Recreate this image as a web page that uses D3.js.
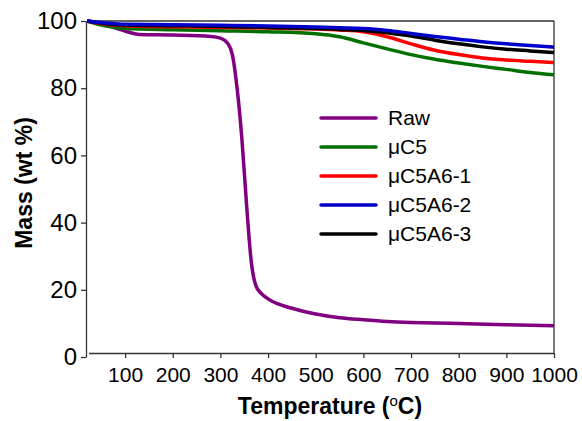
<!DOCTYPE html>
<html>
<head>
<meta charset="utf-8">
<script src="https://cdn.jsdelivr.net/npm/d3@7"></script>
<style>
  body { margin: 0; background: #fff; }
  text { font-family: Arial, "Liberation Sans", sans-serif; fill: #000; }
</style>
</head>
<body>
<div id="chart"></div>
<script>
// TGA curves
var tempRaw = [20, 50, 80, 100, 130, 200, 280, 300, 315, 325, 335, 345, 355, 365, 375, 385, 400, 450, 500, 550, 600, 650, 700, 750, 800, 900, 1000];
var massRaw = [100, 99.3, 97.9, 97.0, 96.0, 95.8, 95.4, 94.9, 93.4, 90, 80, 65, 45, 28, 21, 19, 17.3, 14.5, 12.8, 11.7, 11.1, 10.6, 10.3, 10.1, 10.0, 9.6, 9.3];

var temp = [20, 60, 100, 200, 300, 400, 500, 550, 600, 650, 700, 750, 800, 850, 900, 950, 1000];
var massC5   = [100, 98.5, 97.8, 97.4, 97.1, 96.8, 96.2, 95.3, 93.5, 91.7, 90.0, 88.6, 87.5, 86.5, 85.6, 84.7, 84.0];
var massC5A61 = [100, 99.0, 98.6, 98.3, 98.1, 97.9, 97.6, 97.3, 96.8, 95.3, 93.2, 91.3, 90.0, 89.0, 88.4, 88.0, 87.6];
var massC5A62 = [100, 99.4, 99.0, 98.9, 98.7, 98.5, 98.2, 98.0, 97.8, 97.2, 96.3, 95.4, 94.6, 93.8, 93.2, 92.7, 92.2];
var massC5A63 = [100, 99.2, 98.8, 98.6, 98.4, 98.1, 97.8, 97.5, 97.2, 96.5, 95.5, 94.3, 93.2, 92.3, 91.6, 91.1, 90.6];

var seriesNames = ["Raw", "\u03bcC5", "\u03bcC5A6-1", "\u03bcC5A6-2", "\u03bcC5A6-3"];
var seriesColors = ["#800080", "#007000", "#ff0000", "#0000cc", "#000000"];
var xTicks = [100, 200, 300, 400, 500, 600, 700, 800, 900, 1000];
var yTicks = [0, 20, 40, 60, 80, 100];

var width = 582, height = 421;

var svg = d3.select("#chart")
    .append("svg")
    .attr("width", width)
    .attr("height", height);

var x = d3.scaleLinear().domain([20, 1000]).range([87, 554]);
var y = d3.scaleLinear().domain([0, 100]).range([357, 21]);
var axisY = 353;

// frame (top and right)
svg.append("line")
    .attr("x1", x(20)).attr("x2", x(1000)).attr("y1", y(100)).attr("y2", y(100))
    .style("stroke", "#333").style("stroke-width", 1.3);
svg.append("line")
    .attr("x1", x(1000)).attr("x2", x(1000)).attr("y1", y(100)).attr("y2", axisY)
    .style("stroke", "#333").style("stroke-width", 1.3);

// y axis
var yAxis = d3.axisLeft(y).tickValues(yTicks).tickSize(5).tickSizeOuter(0).tickPadding(4);
var gy = svg.append("g").attr("transform", "translate(" + (x(20) - 1) + ",0)").call(yAxis);
gy.select(".domain").style("stroke", "#333").style("stroke-width", 1.3);
gy.selectAll(".tick line").style("stroke", "#333").style("stroke-width", 1.3);
gy.selectAll(".tick text").style("font-size", "24px").style("font-family", "Arial, 'Liberation Sans', sans-serif");

// x axis
var xAxis = d3.axisBottom(x).tickValues(xTicks).tickFormat(d3.format("d"))
    .tickSize(5).tickSizeOuter(0).tickPadding(9);
var gx = svg.append("g").attr("transform", "translate(0," + axisY + ")").call(xAxis);
gx.select(".domain").attr("d", "M" + (x(20) + 2) + ",0.5H" + x(1000))
    .style("stroke", "#333").style("stroke-width", 1.3);
gx.selectAll(".tick line").style("stroke", "#333").style("stroke-width", 1.3);
gx.selectAll(".tick text").style("font-size", "21px").style("font-family", "Arial, 'Liberation Sans', sans-serif");

// axis titles
var xt = svg.append("text")
    .attr("x", 330).attr("y", 414)
    .attr("text-anchor", "middle")
    .style("font-size", "23px").style("font-weight", "bold");
xt.append("tspan").text("Temperature (");
xt.append("tspan").text("o").style("font-size", "15px").style("font-weight", "normal").attr("dy", -8);
xt.append("tspan").text("C)").attr("dy", 8);

svg.append("text")
    .attr("transform", "translate(32,183) rotate(-90)")
    .attr("text-anchor", "middle")
    .style("font-size", "23px").style("font-weight", "bold")
    .text("Mass (wt %)");

// curves
var line = d3.line()
    .x(function(d) { return x(d[0]); })
    .y(function(d) { return y(d[1]); })
    .curve(d3.curveMonotoneX);

var curves = [
    d3.zip(tempRaw, massRaw),
    d3.zip(temp, massC5),
    d3.zip(temp, massC5A61),
    d3.zip(temp, massC5A63),
    d3.zip(temp, massC5A62)
];
var curveColors = [seriesColors[0], seriesColors[1], seriesColors[2], seriesColors[4], seriesColors[3]];

svg.append("g")
    .selectAll("path")
    .data(curves)
    .enter()
    .append("path")
    .attr("d", line)
    .style("fill", "none")
    .style("stroke", function(d, i) { return curveColors[i]; })
    .style("stroke-width", 3.5)
    .style("stroke-linejoin", "round");

// legend
var legend = svg.append("g")
    .selectAll("g")
    .data(seriesNames)
    .enter()
    .append("g")
    .attr("transform", function(d, i) { return "translate(321," + (118 + i * 29) + ")"; });

legend.append("line")
    .attr("x1", 0).attr("x2", 55)
    .style("stroke", function(d, i) { return seriesColors[i]; })
    .style("stroke-width", 3.5)
    .style("stroke-linecap", "round");

legend.append("text")
    .attr("x", 67).attr("dy", "0.35em")
    .style("font-size", "21px")
    .text(function(d) { return d; });
</script>
</body>
</html>
